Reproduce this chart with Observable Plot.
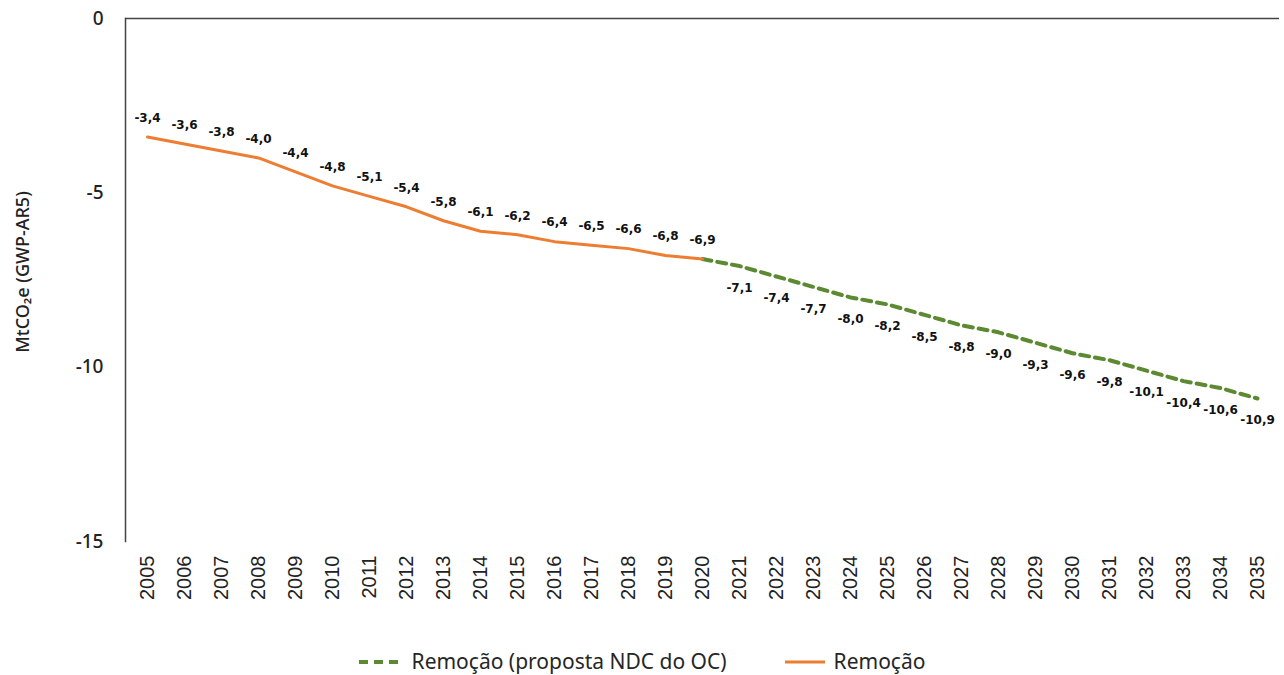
<!DOCTYPE html>
<html>
<head>
<meta charset="utf-8">
<script src="https://cdn.jsdelivr.net/npm/d3@7"></script>
<script src="https://cdn.jsdelivr.net/npm/@observablehq/plot@0.6"></script>
<style>
  html, body { margin: 0; padding: 0; background: #fff; }
  #chart { width: 1284px; }
  .legend { box-sizing: border-box; display: flex; justify-content: center; align-items: center; height: 45px; padding-top: 18px; font-family: "Noto Sans", sans-serif; font-size: 21px; line-height: 1; color: #262626; }
  .legend .item { display: flex; align-items: center; margin: 0 29px; }
  .legend svg { margin-right: 9px; }
</style>
</head>
<body>
<div id="chart"></div>
<script>
const years = d3.range(2005, 2036);
const histYears = [2005,2006,2007,2008,2009,2010,2011,2012,2013,2014,2015,2016,2017,2018,2019,2020];
const histValues = [-3.4,-3.6,-3.8,-4.0,-4.4,-4.8,-5.1,-5.4,-5.8,-6.1,-6.2,-6.4,-6.5,-6.6,-6.8,-6.9];
const projYears = [2020,2021,2022,2023,2024,2025,2026,2027,2028,2029,2030,2031,2032,2033,2034,2035];
const projValues = [-6.9,-7.1,-7.4,-7.7,-8.0,-8.2,-8.5,-8.8,-9.0,-9.3,-9.6,-9.8,-10.1,-10.4,-10.6,-10.9];
const yTicks = [0, -5, -10, -15];
const seriesNames = ["Remoção (proposta NDC do OC)", "Remoção"];
const colors = { orange: "#ED7D31", green: "#5B8A33" };

const hist = histYears.map((y, i) => ({ year: y, value: histValues[i] }));
const proj = projYears.map((y, i) => ({ year: y, value: projValues[i] }));
const projLabels = proj.slice(1);
const fmt = v => v.toFixed(1).replace(".", ",");

const chart = Plot.plot({
  width: 1284,
  height: 630,
  marginLeft: 125,
  marginRight: 5,
  marginTop: 18,
  marginBottom: 89,
  style: { fontFamily: "'Noto Sans', sans-serif", color: "#222", background: "#fff" },
  x: { type: "point", domain: years, padding: 0.5 },
  y: { domain: [-15, 0] },
  marks: [
    Plot.ruleY([0], { stroke: "#444", strokeWidth: 1.5 }),
    Plot.frame({ anchor: "left", stroke: "#444", strokeWidth: 1.5 }),
    Plot.axisY({ ticks: yTicks, tickSize: 0, tickPadding: 22, tickFormat: d => String(d), fontSize: 19, fontWeight: 500, label: null }),
    Plot.axisX({ anchor: "bottom", tickRotate: -90, tickSize: 0, tickPadding: 14, fontSize: 20, fontFamily: "'Liberation Sans', Arial, sans-serif", label: null, tickFormat: d => String(d) }),
    Plot.text(["MtCO₂e (GWP-AR5)"], { frameAnchor: "left", textAnchor: "middle", rotate: -90, dx: -102, dy: -8, fontSize: 18, fontWeight: 500, fill: "#222" }),
    Plot.line(proj, { x: "year", y: "value", stroke: colors.green, strokeWidth: 4, strokeDasharray: "9,6" }),
    Plot.line(hist, { x: "year", y: "value", stroke: colors.orange, strokeWidth: 3 }),
    Plot.text(hist, { x: "year", y: "value", text: d => fmt(d.value), dy: -19, fontSize: 12, fontWeight: "bold", fontFamily: "'DejaVu Sans', sans-serif", fill: "#111" }),
    Plot.text(projLabels, { x: "year", y: "value", text: d => fmt(d.value), dy: 22, fontSize: 12, fontWeight: "bold", fontFamily: "'DejaVu Sans', sans-serif", fill: "#111" })
  ]
});
document.getElementById("chart").appendChild(chart);

const legend = document.createElement("div");
legend.className = "legend";
legend.innerHTML = `
  <div class="item"><svg width="44" height="10"><line x1="0" y1="5" x2="44" y2="5" stroke="${colors.green}" stroke-width="4" stroke-dasharray="9,6"/></svg><span>${seriesNames[0]}</span></div>
  <div class="item"><svg width="40" height="10"><line x1="0" y1="5" x2="40" y2="5" stroke="${colors.orange}" stroke-width="3"/></svg><span>${seriesNames[1]}</span></div>`;
document.getElementById("chart").appendChild(legend);
</script>
</body>
</html>
